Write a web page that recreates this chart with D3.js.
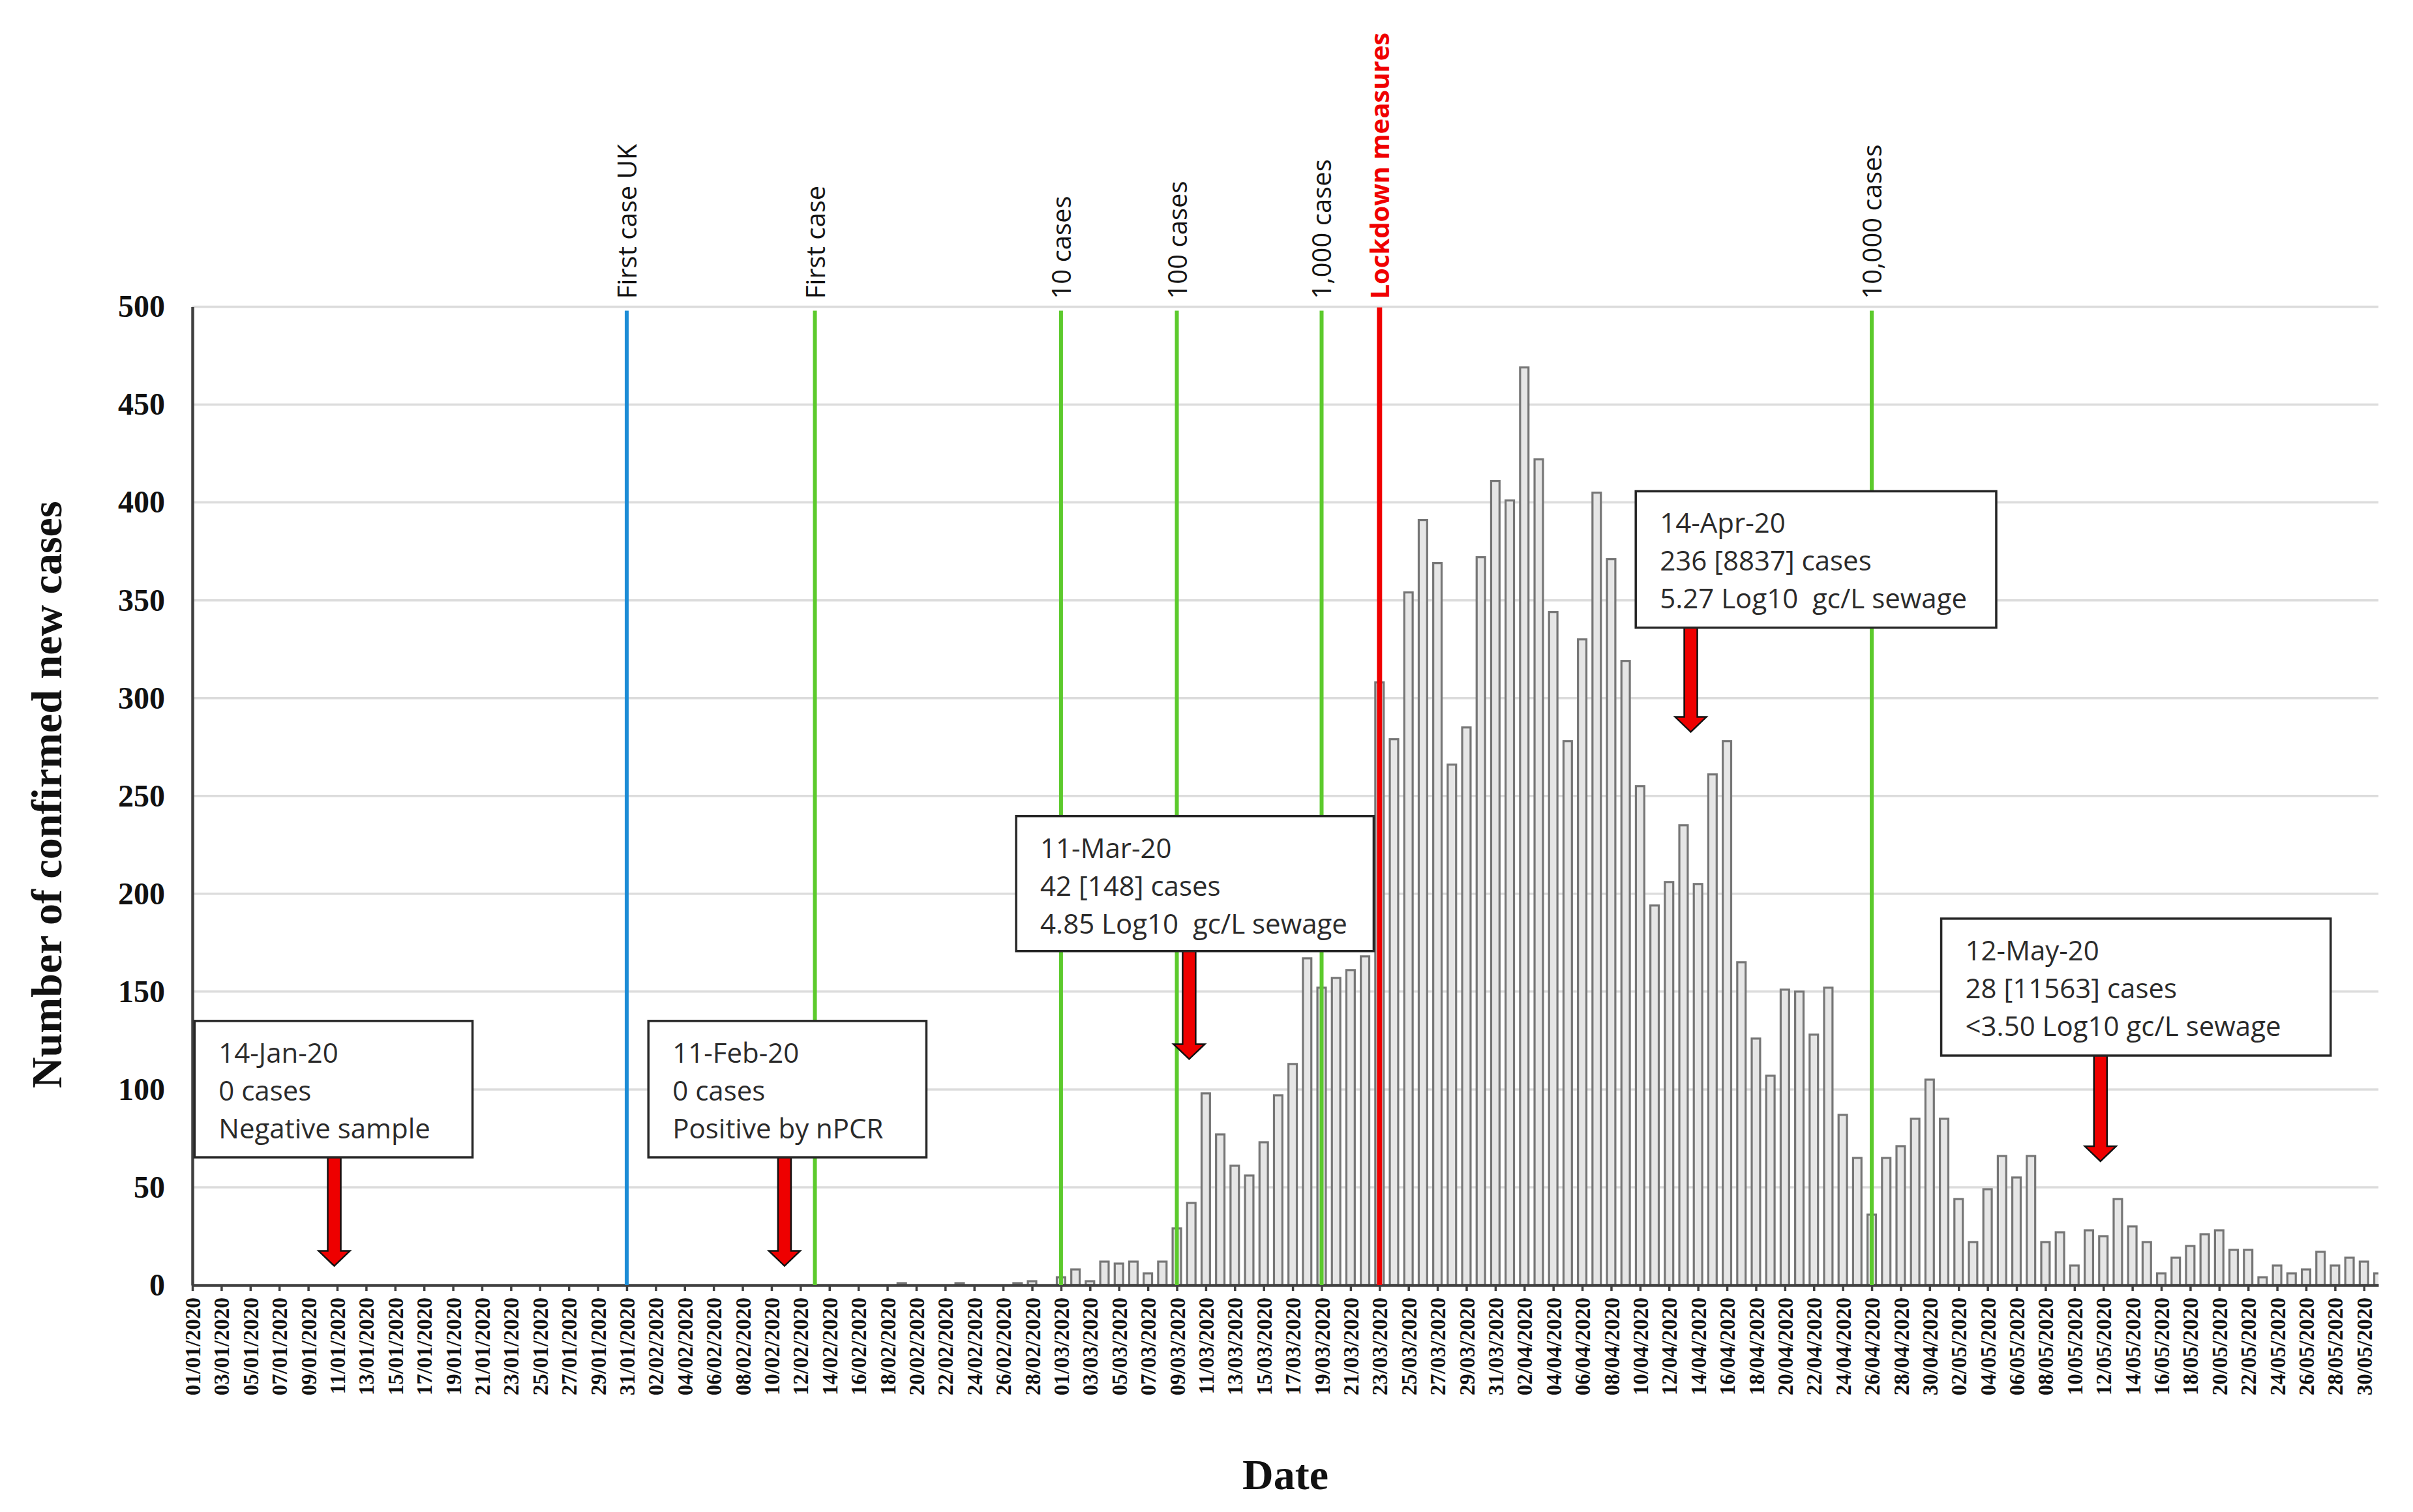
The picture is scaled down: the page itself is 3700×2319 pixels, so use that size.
<!DOCTYPE html>
<html>
<head>
<meta charset="utf-8">
<script src="https://cdn.jsdelivr.net/npm/d3@7/dist/d3.min.js"></script>
<style>
  body { margin: 0; background: #fff; }
  svg { display: block; }
</style>
</head>
<body>
<svg id="chart"></svg>
<script>
// daily confirmed new cases, 01/01/2020 .. 31/05/2020
var jan = [0,0,0,0,0,0,0,0,0,0, 0,0,0,0,0,0,0,0,0,0, 0,0,0,0,0,0,0,0,0,0, 0];
var feb = [0,0,0,0,0,0,0,0,0,0, 0,0,0,0,0,0,0,0,1,0, 0,0,1,0,0,0,1,2,0];
var mar = [4,8,2,12,11,12,6,12,29,42, 98,77,61,56,73,97,113,167,152,157, 161,168,308,279,354,391,369,266,285,372, 411];
var apr = [401,469,422,344,278,330,405,371,319,255, 194,206,235,205,261,278,165,126,107,151, 150,128,152,87,65,36,65,71,85,105];
var may = [85,44,22,49,66,55,66,22,27,10, 28,25,44,30,22,6,14,20,26,28, 18,18,4,10,6,8,17,10,14,12, 6];
var cases = jan.concat(feb, mar, apr, may);

var days = d3.timeDay.range(new Date(2020, 0, 1), new Date(2020, 5, 1));
var fmtDay = d3.timeFormat('%d/%m/%Y');

var yTicks = [0, 50, 100, 150, 200, 250, 300, 350, 400, 450, 500];

// milestones drawn as vertical lines (day = index from 01/01/2020)
var events = [
  {label: 'First case UK',      day: 30,  kind: 'uk'},
  {label: 'First case',         day: 43,  kind: 'count'},
  {label: '10 cases',           day: 60,  kind: 'count'},
  {label: '100 cases',          day: 68,  kind: 'count'},
  {label: '1,000 cases',        day: 78,  kind: 'count'},
  {label: 'Lockdown measures',  day: 82,  kind: 'lockdown'},
  {label: '10,000 cases',       day: 116, kind: 'count'}
];

// sewage sampling call-outs: box in data units [day0, day1, top, bottom], arrow tip [day, cases]
var notes = [
  {lines: ['14-Jan-20', '0 cases', 'Negative sample'],
   box: [0.15, 19.35, 135, 65.3], arrow: [9.8, 9.8]},
  {lines: ['11-Feb-20', '0 cases', 'Positive by nPCR'],
   box: [31.5, 50.7, 135, 65.3], arrow: [40.9, 9.8]},
  {lines: ['11-Mar-20', '42 [148] cases', '4.85 Log10  gc/L sewage'],
   box: [56.9, 81.6, 239.7, 170.7], arrow: [68.85, 115.5]},
  {lines: ['14-Apr-20', '236 [8837] cases', '5.27 Log10  gc/L sewage'],
   box: [99.7, 124.6, 405.7, 336], arrow: [103.5, 282.7]},
  {lines: ['12-May-20', '28 [11563] cases', '<3.50 Log10 gc/L sewage'],
   box: [120.8, 147.7, 187.3, 117.3], arrow: [131.8, 63.3]}
];

(function(){
  var W = 3700, H = 2319;
  var pLeft = 295, pRight = 3647, pTop = 470.5, pBottom = 1971;
  var serif = "'Liberation Serif', 'Times New Roman', serif";
  var sans = "'Open Sans', 'Noto Sans', sans-serif";

  var svg = d3.select('#chart').attr('width', W).attr('height', H);
  svg.append('rect').attr('width', W).attr('height', H).attr('fill', '#fff');

  var x = d3.scaleLinear().domain([0, days.length - 1]).range([pLeft, pRight]);
  var y = d3.scaleLinear().domain([0, 500]).range([pBottom, pTop]);
  var step = x(1) - x(0);
  var barW = step * 0.58;

  svg.append('clipPath').attr('id', 'plotclip')
    .append('rect').attr('x', pLeft).attr('y', 0).attr('width', pRight - pLeft).attr('height', pBottom + 2);

  // gridlines
  svg.append('g').selectAll('line')
    .data(yTicks.filter(function(d){ return d > 0; }))
    .enter().append('line')
    .attr('x1', pLeft).attr('x2', pRight)
    .attr('y1', function(d){ return y(d); }).attr('y2', function(d){ return y(d); })
    .attr('stroke', '#dcdcdc').attr('stroke-width', 3.5);

  // bars
  svg.append('g').attr('clip-path', 'url(#plotclip)')
    .selectAll('rect')
    .data(cases.map(function(v, i){ return {i: i, v: v}; }).filter(function(d){ return d.v > 0; }))
    .enter().append('rect')
    .attr('x', function(d){ return x(d.i) - barW / 2; })
    .attr('width', barW)
    .attr('y', function(d){ return y(d.v); })
    .attr('height', function(d){ return y(0) - y(d.v); })
    .attr('fill', '#e6e6e6')
    .attr('stroke', '#767676')
    .attr('stroke-width', 3.2);

  // x axis
  var xAxis = d3.axisBottom(x)
    .tickValues(d3.range(0, days.length, 2))
    .tickFormat(function(i){ return fmtDay(days[i]); })
    .tickSize(9).tickSizeOuter(0);

  var gx = svg.append('g').attr('transform', 'translate(0,' + pBottom + ')').call(xAxis);
  gx.select('.domain').attr('stroke', '#404040').attr('stroke-width', 4.5);
  gx.selectAll('.tick line').attr('stroke', '#404040').attr('stroke-width', 3.5);
  gx.selectAll('.tick text')
    .attr('font-family', serif).attr('font-weight', 'bold').attr('font-size', 33)
    .attr('fill', '#111')
    .attr('text-anchor', 'end')
    .attr('transform', 'translate(0,19) rotate(-90)')
    .attr('x', 0).attr('y', 0).attr('dy', '0.35em');

  // y axis
  var yAxis = d3.axisLeft(y).tickValues(yTicks).tickSize(0).tickPadding(42).tickSizeOuter(0);
  var gy = svg.append('g').attr('transform', 'translate(' + pLeft + ',0)').call(yAxis);
  gy.select('.domain').attr('stroke', '#404040').attr('stroke-width', 4.5);
  gy.selectAll('.tick text')
    .attr('font-family', serif).attr('font-weight', 'bold').attr('font-size', 48)
    .attr('fill', '#111');

  // axis titles
  svg.append('text')
    .attr('transform', 'translate(94,' + ((pTop + pBottom) / 2 - 2) + ') rotate(-90)')
    .attr('text-anchor', 'middle')
    .attr('font-family', serif).attr('font-weight', 'bold').attr('font-size', 66)
    .attr('fill', '#111')
    .text('Number of confirmed new cases');

  svg.append('text')
    .attr('x', (pLeft + pRight) / 2).attr('y', 2284)
    .attr('text-anchor', 'middle')
    .attr('font-family', serif).attr('font-weight', 'bold').attr('font-size', 66)
    .attr('fill', '#111')
    .text('Date');

  // milestone lines
  var lineColour = {uk: '#1c8cd6', count: '#5cca2c', lockdown: '#f00000'};
  var ev = svg.append('g').selectAll('g').data(events).enter().append('g');
  ev.append('line')
    .attr('x1', function(d){ return x(d.day); }).attr('x2', function(d){ return x(d.day); })
    .attr('y1', function(d){ return d.kind === 'lockdown' ? pTop + 1 : pTop + 6; })
    .attr('y2', pBottom)
    .attr('stroke', function(d){ return lineColour[d.kind]; })
    .attr('stroke-width', function(d){ return d.kind === 'lockdown' ? 8 : 6; });
  ev.append('text')
    .attr('transform', function(d){ return 'translate(' + (x(d.day) + 15) + ',' + (pTop - 12) + ') rotate(-90)'; })
    .attr('font-family', sans).attr('font-size', 40)
    .attr('font-weight', function(d){ return d.kind === 'lockdown' ? 'bold' : 'normal'; })
    .attr('fill', function(d){ return d.kind === 'lockdown' ? '#f00000' : '#141414'; })
    .text(function(d){ return d.label; });

  // call-outs: arrows first so the box border sits over the arrow root
  var shaft = 10, head = 24, headLen = 23;
  var notesG = svg.append('g').selectAll('g').data(notes).enter().append('g');

  notesG.append('path')
    .attr('d', function(d){
      var cx = x(d.arrow[0]), t = y(d.box[3]), tip = y(d.arrow[1]), hb = tip - headLen;
      return 'M' + (cx - shaft) + ',' + t + 'L' + (cx + shaft) + ',' + t +
        'L' + (cx + shaft) + ',' + hb + 'L' + (cx + head) + ',' + hb +
        'L' + cx + ',' + tip + 'L' + (cx - head) + ',' + hb +
        'L' + (cx - shaft) + ',' + hb + 'Z';
    })
    .attr('fill', '#ee0000').attr('stroke', '#111').attr('stroke-width', 2.5)
    .attr('stroke-linejoin', 'miter');

  notesG.append('rect')
    .attr('x', function(d){ return x(d.box[0]); })
    .attr('y', function(d){ return y(d.box[2]); })
    .attr('width', function(d){ return x(d.box[1]) - x(d.box[0]); })
    .attr('height', function(d){ return y(d.box[3]) - y(d.box[2]); })
    .attr('fill', '#fff').attr('stroke', '#262626').attr('stroke-width', 3.5);

  notesG.each(function(d){
    var g = d3.select(this);
    g.selectAll('text').data(d.lines).enter().append('text')
      .attr('x', x(d.box[0]) + 37)
      .attr('y', function(t, k){ return y(d.box[2]) + 64 + k * 58; })
      .attr('font-family', sans).attr('font-size', 42)
      .attr('fill', '#2b2b2b')
      .style('white-space', 'pre')
      .text(function(t){ return t; });
  });
})();
</script>
</body>
</html>
